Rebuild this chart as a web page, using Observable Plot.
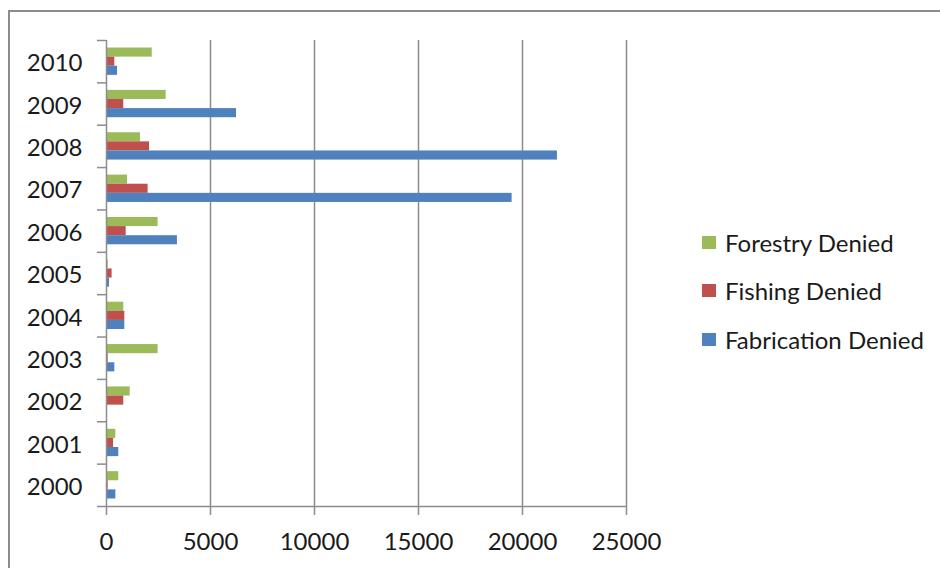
<!DOCTYPE html>
<html>
<head>
<meta charset="utf-8">
<script src="https://cdn.jsdelivr.net/npm/d3@7"></script>
<script src="https://cdn.jsdelivr.net/npm/@observablehq/plot@0.6"></script>
<style>
  html, body { margin: 0; padding: 0; background: #fff; overflow: hidden; }
  body { width: 940px; height: 568px; position: relative; font-family: Lato, "Open Sans", sans-serif; }
  #frame { position: absolute; left: 8px; top: 10px; width: 1000px; height: 700px; border: 2px solid #8c8c8c; box-sizing: border-box; }
  #chart { position: absolute; left: 0; top: 0; }
  #legend { position: absolute; left: 702px; top: 218px; }
  .item { display: flex; align-items: center; height: 48.5px; font-size: 24px; color: #1a1a1a; }
  .sw { width: 14px; height: 13px; margin-right: 9px; }
</style>
</head>
<body>
<div id="frame"></div>
<div id="chart"></div>
<div id="legend"></div>
<script>
const years = [2000, 2001, 2002, 2003, 2004, 2005, 2006, 2007, 2008, 2009, 2010];
const forestry = [590, 450, 1140, 2480, 830, 80, 2480, 1010, 1635, 2870, 2200];
const fishing = [80, 340, 830, 80, 880, 270, 945, 2000, 2070, 830, 400];
const fabrication = [450, 590, 0, 400, 880, 145, 3410, 19500, 21680, 6250, 530];
const seriesNames = ["Forestry Denied", "Fishing Denied", "Fabrication Denied"];
const seriesColors = ["#9BBB59", "#C0504D", "#4F81BD"];
const xTicks = [0, 5000, 10000, 15000, 20000, 25000];

const seriesValues = [forestry, fishing, fabrication];
const barH = 0.215;
const rows = [];
seriesValues.forEach((vals, s) => {
  vals.forEach((v, i) => {
    const c = i + (1 - s) * barH;
    rows.push({series: seriesNames[s], year: years[i], value: v, y1: c - barH / 2, y2: c + barH / 2});
  });
});
const idx = years.map((_, i) => i);
const bounds = [...idx.map(i => i - 0.5), years.length - 0.5];

const chart = Plot.plot({
  width: 940,
  height: 568,
  marginLeft: 106,
  marginRight: 314,
  marginTop: 40,
  marginBottom: 62,
  style: {fontFamily: "Lato, 'Open Sans', sans-serif", fontSize: "24px", color: "#1a1a1a", background: "transparent"},
  x: {domain: [0, 25000], axis: null, label: null},
  y: {domain: [-0.5, years.length - 0.5], axis: null, label: null},
  color: {domain: seriesNames, range: seriesColors},
  marks: [
    Plot.gridX(xTicks.slice(1), {stroke: "#8c8c8c", strokeOpacity: 1, strokeWidth: 1.5}),
    Plot.rectX(rows, {x1: 0, x2: "value", y1: "y1", y2: "y2", fill: "series", inset: 0}),
    Plot.ruleX([0], {y1: -0.5, y2: years.length - 0.5, stroke: "#8c8c8c", strokeWidth: 1.5}),
    Plot.ruleY([-0.5], {x1: 0, x2: 25000, stroke: "#8c8c8c", strokeWidth: 1.5}),
    Plot.axisY(bounds, {tickSize: 9, tickFormat: () => "", stroke: "#8c8c8c", strokeWidth: 1.5, label: null}),
    Plot.axisY(idx, {tickSize: 0, tickPadding: 24, dy: 2, tickFormat: i => String(years[i]), fill: "#1a1a1a", fontSize: 24, label: null}),
    Plot.axisX(xTicks, {tickSize: 9, tickPadding: 17, tickFormat: d => String(d), stroke: "#8c8c8c", strokeWidth: 1.5, fill: "#1a1a1a", fontSize: 24, label: null})
  ]
});
document.getElementById("chart").appendChild(chart);

const legend = document.getElementById("legend");
seriesNames.forEach((n, s) => {
  const it = document.createElement("div");
  it.className = "item";
  const sw = document.createElement("span");
  sw.className = "sw";
  sw.style.background = seriesColors[s];
  const t = document.createElement("span");
  t.textContent = n;
  it.appendChild(sw);
  it.appendChild(t);
  legend.appendChild(it);
});
</script>
</body>
</html>
